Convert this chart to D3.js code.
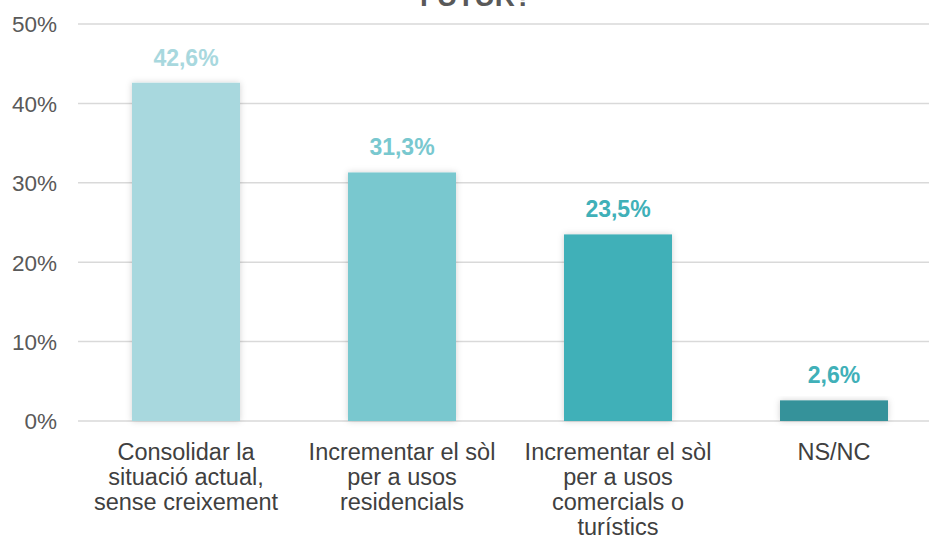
<!DOCTYPE html>
<html>
<head>
<meta charset="utf-8">
<script src="https://cdn.jsdelivr.net/npm/d3@7"></script>
<style>
  body { margin: 0; background: #fff; }
  svg { display: block; font-family: "Liberation Sans", Arial, sans-serif; }
</style>
</head>
<body>
<div id="wrapper"></div>
<script>
var categories = [
  ["Consolidar la", "situació actual,", "sense creixement"],
  ["Incrementar el sòl", "per a usos", "residencials"],
  ["Incrementar el sòl", "per a usos", "comercials o", "turístics"],
  ["NS/NC"]
];
var values = [42.6, 31.3, 23.5, 2.6];
var barColors = ["#a8d8de", "#79c8cf", "#40b0b8", "#35929a"];
var labelColors = ["#a8d8de", "#79c8cf", "#40b0b8", "#40b0b8"];
var yTicks = [0, 10, 20, 30, 40, 50];
var title = "FUTUR?";

var width = 929, height = 540;
var svg = d3.select("#wrapper").append("svg")
    .attr("width", width).attr("height", height);

var defs = svg.append("defs");
var shadow = defs.append("filter").attr("id", "shadow")
    .attr("x", "-20%").attr("y", "-20%").attr("width", "140%").attr("height", "140%");
shadow.append("feDropShadow").attr("dx", 0).attr("dy", 0)
    .attr("stdDeviation", 3).attr("flood-color", "#000").attr("flood-opacity", 0.18);

var x = d3.scaleBand().domain(d3.range(values.length)).range([78, 942]).paddingInner(0.5).paddingOuter(0.25);
var y = d3.scaleLinear().domain([0, 50]).range([421, 24]);

// title (cut off at top, as in the source)
svg.append("text").attr("x", 476).attr("y", 6).attr("text-anchor", "middle")
    .style("font-size", "28px").style("font-weight", "bold").style("fill", "#595959")
    .text(title);

// gridlines
svg.append("g").selectAll("line").data(yTicks).enter().append("line")
    .attr("x1", 78).attr("x2", 929)
    .attr("y1", d => y(d)).attr("y2", d => y(d))
    .attr("stroke", "#d9d9d9").attr("stroke-width", 1.5);

// y axis labels
var yAxis = svg.append("g").attr("transform", "translate(57,0)")
    .call(d3.axisLeft(y).tickValues(yTicks).tickSize(0).tickPadding(0).tickFormat(d => d + "%"));
yAxis.select(".domain").remove();
yAxis.selectAll("text").style("font-size", "22.5px").style("fill", "#595959")
    .style("font-family", "'Liberation Sans', Arial, sans-serif").attr("dy", "0.35em");

// bars
svg.append("g").selectAll("rect").data(values).enter().append("rect")
    .attr("x", (d, i) => x(i)).attr("width", x.bandwidth())
    .attr("y", d => y(d)).attr("height", d => y(0) - y(d))
    .attr("fill", (d, i) => barColors[i])
    .attr("filter", "url(#shadow)");

// value labels
svg.append("g").selectAll("text").data(values).enter().append("text")
    .attr("x", (d, i) => x(i) + x.bandwidth() / 2)
    .attr("y", d => y(d) - 17)
    .attr("text-anchor", "middle")
    .style("font-size", "23px").style("font-weight", "bold")
    .style("fill", (d, i) => labelColors[i])
    .text(d => d.toFixed(1).replace(".", ",") + "%");

// category labels
var cat = svg.append("g").selectAll("text").data(categories).enter().append("text")
    .attr("x", (d, i) => x(i) + x.bandwidth() / 2)
    .attr("y", 460)
    .attr("text-anchor", "middle")
    .style("font-size", "23.5px").style("fill", "#404040");
cat.each(function(lines, i) {
  var t = d3.select(this);
  lines.forEach(function(l, j) {
    t.append("tspan").attr("x", x(i) + x.bandwidth() / 2).attr("dy", j === 0 ? 0 : 25).text(l);
  });
});
</script>
</body>
</html>
